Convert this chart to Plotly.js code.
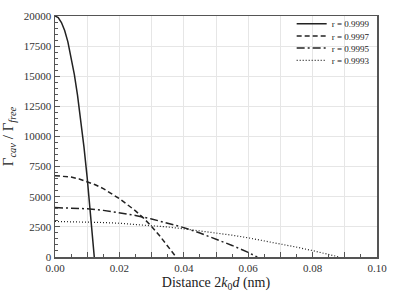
<!DOCTYPE html>
<html><head><meta charset="utf-8">
<script src="https://cdn.plot.ly/plotly-3.0.1.min.js"></script>
<style>html,body{margin:0;padding:0;background:#fff;}#chart{width:393px;height:293px;}</style>
</head><body><div id="chart"></div>
<script>
// Series data
const x9999 = [0,0.001,0.002,0.003,0.004,0.005,0.006,0.007,0.008,0.009,0.010,0.011,0.012,0.0122];
const y9999 = [20000,19870,19460,18790,17850,16640,15160,13420,11400,9120,6560,3740,650,0];

const x9997 = [0,0.0025,0.005,0.0075,0.01,0.0125,0.015,0.0175,0.02,0.0225,0.025,0.0275,0.03,0.0325,0.035,0.0376];
const y9997 = [6750,6720,6630,6480,6270,6000,5680,5290,4840,4340,3830,3230,2540,1760,920,0];

const x9995 = [0,0.005,0.01,0.015,0.02,0.025,0.03,0.035,0.04,0.045,0.05,0.055,0.06,0.0628];
const y9995 = [4100,4070,4000,3870,3680,3450,3160,2830,2440,1990,1500,960,380,0];

const x9993 = [0,0.005,0.01,0.015,0.02,0.025,0.03,0.035,0.04,0.045,0.05,0.055,0.06,0.065,0.07,0.075,0.08,0.085,0.0883];
const y9993 = [2950,2940,2910,2860,2800,2710,2610,2490,2340,2180,2000,1810,1590,1350,1100,820,530,220,0];

const seriesNames = ["r = 0.9999","r = 0.9997","r = 0.9995","r = 0.9993"];
const xTickVals = [0,0.01,0.02,0.03,0.04,0.05,0.06,0.07,0.08,0.09,0.1];
const xTickText = ["0.00","","0.02","","0.04","","0.06","","0.08","","0.10"];

const lc = "#222";
const traces = [
  {x:x9999,y:y9999,name:seriesNames[0],legend:"legend", line:{color:lc,width:1.5,dash:"solid"}},
  {x:x9997,y:y9997,name:seriesNames[1],legend:"legend2",line:{color:lc,width:1.5,dash:"5px,3px"}},
  {x:x9995,y:y9995,name:seriesNames[2],legend:"legend3",line:{color:lc,width:1.5,dash:"8px,3px,2px,3px"}},
  {x:x9993,y:y9993,name:seriesNames[3],legend:"legend4",line:{color:lc,width:1.2,dash:"1px,2px"}}
].map(t=>Object.assign({type:"scatter",mode:"lines"},t));

const serif = "'Liberation Serif', 'Times New Roman', Times, serif";
const tickFont = {family:serif,size:11,color:"#333"};
function leg(y){
  return {x:0.735,xanchor:"left",y:y,yanchor:"middle",bgcolor:"rgba(0,0,0,0)",
          font:{family:serif,size:9,color:"#222"},itemwidth:30,borderwidth:0};
}
const layout = {
  width:393,height:293,
  margin:{l:55,r:16,t:9,b:36},
  paper_bgcolor:"#fff",plot_bgcolor:"#fff",
  showlegend:true,
  legend:leg(0.968),legend2:leg(0.917),legend3:leg(0.867),legend4:leg(0.816),
  xaxis:{range:[0,0.1],tickmode:"array",tickvals:xTickVals,ticktext:xTickText,
         ticks:"inside",ticklen:5,tickcolor:"#555",tickfont:tickFont,
         showline:true,linecolor:"#555",linewidth:1.5,mirror:true,
         showgrid:true,gridcolor:"#e6e6e6",gridwidth:1,zeroline:false,
         minor:{dtick:0.005,ticks:"inside",ticklen:3,tickcolor:"#555",showgrid:false},
         title:{text:"Distance 2<i>k</i><sub>0</sub><i>d</i> (nm)",font:{family:serif,size:14,color:"#222"},standoff:4}},
  yaxis:{range:[0,20000],dtick:2500,tick0:0,tickformat:"d",
         ticks:"inside",ticklen:5,tickcolor:"#555",tickfont:tickFont,
         showline:true,linecolor:"#555",linewidth:1.5,mirror:true,
         showgrid:true,gridcolor:"#e6e6e6",gridwidth:1,zeroline:false,
         minor:{dtick:500,ticks:"inside",ticklen:3,tickcolor:"#555",showgrid:false},
         title:{text:"Γ<sub><i>cav</i></sub> / Γ<sub><i>free</i></sub>",font:{family:serif,size:15,color:"#222"},standoff:6}}
};
Plotly.newPlot("chart",traces,layout,{staticPlot:true,displayModeBar:false});
</script></body></html>
